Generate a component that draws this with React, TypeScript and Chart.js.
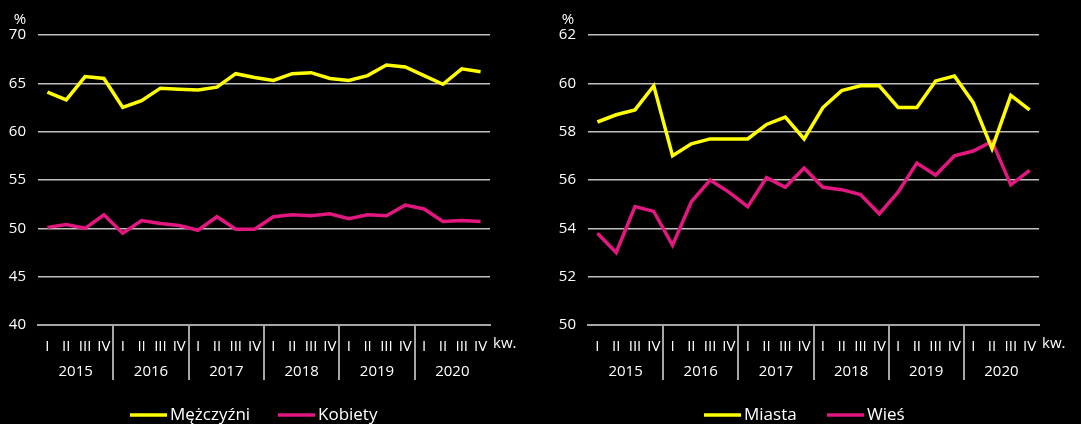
import React, { useEffect, useRef } from "react";
import { Chart, registerables } from "chart.js";
Chart.register(...registerables);

const quarterLabels = [
  "I", "II", "III", "IV", "I", "II", "III", "IV", "I", "II", "III", "IV",
  "I", "II", "III", "IV", "I", "II", "III", "IV", "I", "II", "III", "IV",
];
const yearLabels = ["2015", "2016", "2017", "2018", "2019", "2020"];

const menValues = [
  64.1, 63.3, 65.7, 65.5, 62.5, 63.2, 64.5, 64.4, 64.3, 64.6, 66.0, 65.6,
  65.3, 66.0, 66.1, 65.5, 65.3, 65.8, 66.9, 66.7, 65.8, 64.9, 66.5, 66.2,
];
const womenValues = [
  50.1, 50.4, 50.0, 51.4, 49.5, 50.8, 50.5, 50.3, 49.8, 51.2, 49.9, 49.9,
  51.2, 51.4, 51.3, 51.5, 51.0, 51.4, 51.3, 52.4, 52.0, 50.7, 50.8, 50.7,
];
const cityValues = [
  58.4, 58.7, 58.9, 59.9, 57.0, 57.5, 57.7, 57.7, 57.7, 58.3, 58.6, 57.7,
  59.0, 59.7, 59.9, 59.9, 59.0, 59.0, 60.1, 60.3, 59.2, 57.3, 59.5, 58.9,
];
const ruralValues = [
  53.8, 53.0, 54.9, 54.7, 53.3, 55.1, 56.0, 55.5, 54.9, 56.1, 55.7, 56.5,
  55.7, 55.6, 55.4, 54.6, 55.5, 56.7, 56.2, 57.0, 57.2, 57.6, 55.8, 56.4,
];

const YELLOW = "#ffff00";
const PINK = "#e2177f";
const FONT = "'Open Sans', 'Noto Sans', sans-serif";
const GRID = "#bfbfbf";
const AXIS = "#a6a6a6";

const decorPlugin = {
  id: "decor",
  afterDraw(chart: any, _args: any, opts: any) {
    const ctx = chart.ctx;
    const x = chart.scales.x;
    const ca = chart.chartArea;
    ctx.save();
    // year separators
    ctx.strokeStyle = AXIS;
    ctx.lineWidth = 2;
    for (let k = 1; k < yearLabels.length; k++) {
      const px = Math.round((x.getPixelForValue(k * 4 - 1) + x.getPixelForValue(k * 4)) / 2);
      ctx.beginPath();
      ctx.moveTo(px, ca.bottom);
      ctx.lineTo(px, ca.bottom + 55);
      ctx.stroke();
    }
    // year labels
    ctx.fillStyle = "#ffffff";
    ctx.font = `15px ${FONT}`;
    ctx.textAlign = "center";
    ctx.textBaseline = "middle";
    for (let k = 0; k < yearLabels.length; k++) {
      const cx = (x.getPixelForValue(k * 4) + x.getPixelForValue(k * 4 + 3)) / 2;
      ctx.fillText(yearLabels[k], cx, ca.bottom + 47);
    }
    // kw.
    ctx.textAlign = "left";
    ctx.fillText("kw.", ca.right + 3, ca.bottom + 19);
    // %
    ctx.textAlign = "center";
    ctx.fillText("%", opts.percentX, 20);
    // legend
    ctx.font = `17px ${FONT}`;
    chart.data.datasets.forEach((ds: any, i: number) => {
      const lx = opts.legendX[i];
      const ly = 415;
      ctx.strokeStyle = ds.borderColor;
      ctx.lineWidth = 3.5;
      ctx.beginPath();
      ctx.moveTo(lx, ly);
      ctx.lineTo(lx + 37, ly);
      ctx.stroke();
      ctx.fillStyle = "#ffffff";
      ctx.textAlign = "left";
      ctx.textBaseline = "middle";
      ctx.fillText(ds.label, lx + 40, ly);
    });
    ctx.restore();
  },
};

function makeConfig(
  labels: string[],
  series: { label: string; data: number[]; color: string }[],
  yMin: number,
  yMax: number,
  step: number,
  yWidth: number,
  padRight: number,
  percentX: number,
  legendX: number[]
): any {
  return {
    type: "line",
    data: {
      labels,
      datasets: series.map((s) => ({
        label: s.label,
        data: s.data,
        borderColor: s.color,
        backgroundColor: s.color,
        borderWidth: 3.5,
        pointRadius: 0,
        tension: 0,
        fill: false,
      })),
    },
    options: {
      animation: false,
      responsive: false,
      maintainAspectRatio: false,
      layout: { padding: { top: 35, right: padRight, left: 0, bottom: 0 } },
      plugins: {
        legend: { display: false },
        tooltip: { enabled: false },
        decor: { percentX, legendX },
      },
      scales: {
        x: {
          type: "category",
          offset: true,
          grid: { display: false },
          border: { display: true, color: AXIS, width: 2 },
          ticks: {
            color: "#ffffff",
            font: { family: FONT, size: 15 },
            padding: 5,
            maxRotation: 0,
            autoSkip: false,
          },
          afterFit: (scale: any) => {
            scale.height = 99;
          },
        },
        y: {
          min: yMin,
          max: yMax,
          grid: { color: GRID, lineWidth: 1.5, drawTicks: false },
          border: { display: false },
          ticks: {
            stepSize: step,
            color: "#ffffff",
            font: { family: FONT, size: 15 },
            padding: 12,
          },
          afterFit: (scale: any) => {
            scale.width = yWidth;
          },
        },
      },
    },
    plugins: [decorPlugin],
  };
}

function ChartCanvas({ config, width, left }: { config: any; width: number; left: number }) {
  const ref = useRef<HTMLCanvasElement | null>(null);
  useEffect(() => {
    if (!ref.current) return;
    const chart = new Chart(ref.current, config);
    return () => chart.destroy();
  }, []);
  return (
    <canvas
      ref={ref}
      width={width}
      height={424}
      style={{ position: "absolute", left, top: 0, width, height: 424 }}
    />
  );
}

export default function App() {
  const leftConfig = makeConfig(
    quarterLabels,
    [
      { label: "Mężczyźni", data: menValues, color: YELLOW },
      { label: "Kobiety", data: womenValues, color: PINK },
    ],
    40, 70, 5, 38, 50, 20, [130, 278]
  );
  const rightConfig = makeConfig(
    quarterLabels,
    [
      { label: "Miasta", data: cityValues, color: YELLOW },
      { label: "Wieś", data: ruralValues, color: PINK },
    ],
    50, 62, 2, 48, 42, 28, [164, 287]
  );
  return (
    <div
      style={{
        position: "fixed",
        left: 0,
        top: 0,
        width: 1081,
        height: 424,
        background: "#000000",
        overflow: "hidden",
      }}
    >
      <ChartCanvas config={leftConfig} width={540} left={0} />
      <ChartCanvas config={rightConfig} width={541} left={540} />
    </div>
  );
}
